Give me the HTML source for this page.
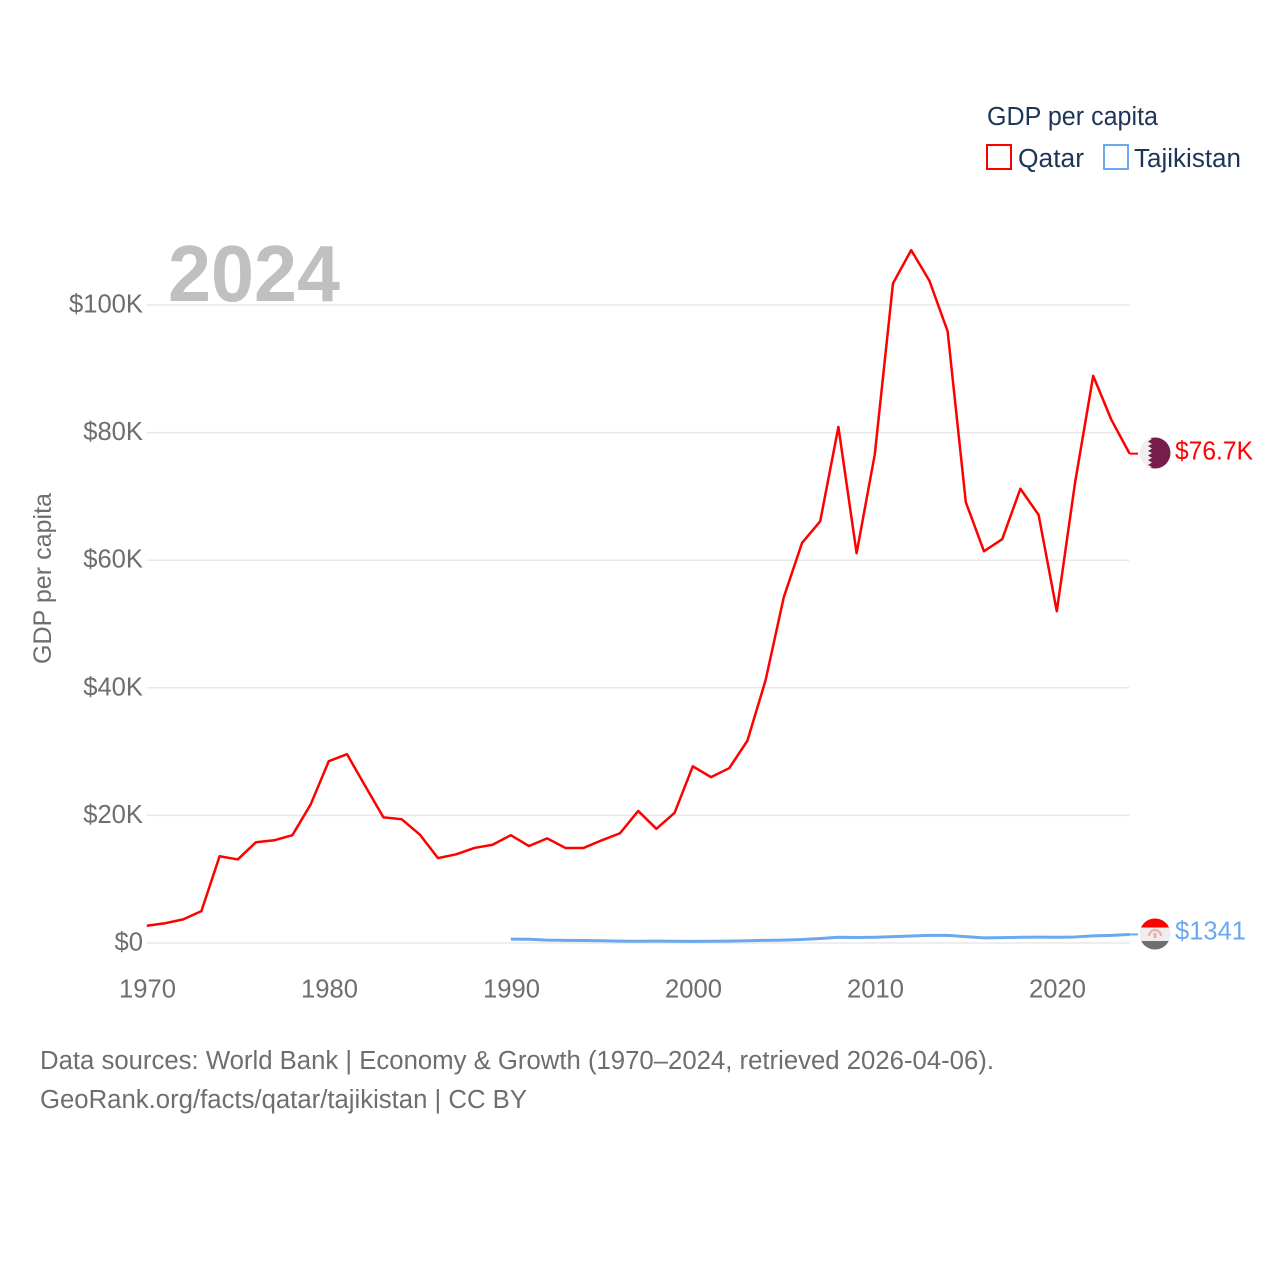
<!DOCTYPE html>
<html lang="en">
<head>
<meta charset="utf-8">
<title>GDP per capita: Qatar vs Tajikistan</title>
<style>
html,body{margin:0;padding:0;background:#fff;width:1280px;height:1280px;overflow:hidden}
svg{display:block}
text{font-family:"Liberation Sans",sans-serif}
</style>
</head>
<body>
<svg id="chart" xmlns="http://www.w3.org/2000/svg" width="1280" height="1280" viewBox="0 0 1280 1280">
  <defs>
    <clipPath id="flag-clip-qa"><circle cx="1155" cy="453" r="15.5"/></clipPath>
    <clipPath id="flag-clip-tj"><circle cx="1155" cy="934" r="15.5"/></clipPath>
  </defs>
  <g id="grid"></g>
  <text x="168" y="301" font-size="80" font-weight="700" fill="#c0c0c0" textLength="172" lengthAdjust="spacingAndGlyphs">2024</text>
  <g id="y-ticks"></g>
  <g id="x-ticks"></g>
  <text transform="translate(51,664) rotate(-90)" font-size="25" fill="#6e6e6e" textLength="171" lengthAdjust="spacingAndGlyphs">GDP per capita</text>
  <path id="line-qatar" fill="none" stroke="#ff0000" stroke-width="2.5" stroke-linejoin="round"/>
  <path id="line-tajikistan" fill="none" stroke="#6aa9ee" stroke-width="3" stroke-linejoin="round"/>
  <line id="conn-qatar" x2="1138" stroke="#ff0000" stroke-width="2"/>
  <line id="conn-tajikistan" x2="1138" stroke="#6aa9ee" stroke-width="2"/>

  <g clip-path="url(#flag-clip-qa)">
    <rect x="1139" y="437" width="32" height="32" fill="#eeeeee"/>
    <polygon fill="#761d4b" points="1171,437 1148,437 1152,439 1148,441.5 1152,444 1148,446 1152,448.5 1148,451 1152,453 1148,455.5 1152,458 1148,460 1152,462.5 1148,465 1152,467 1148,469 1171,469"/>
  </g>
  <g clip-path="url(#flag-clip-tj)">
    <rect x="1139" y="918" width="32" height="9.5" fill="#ff0000"/>
    <rect x="1139" y="927.5" width="32" height="13.5" fill="#eeeeee"/>
    <rect x="1139" y="941" width="32" height="9" fill="#6f6f6f"/>
    <path d="M1149 936a6 6 0 0 1 12 0" fill="none" stroke="#f6a9a9" stroke-width="2"/>
    <rect x="1153.5" y="933" width="3" height="5" fill="#f6a9a9"/>
  </g>
  <text x="1175" y="459.5" font-size="25.5" fill="#ff0000" textLength="78" lengthAdjust="spacingAndGlyphs">$76.7K</text>
  <text x="1175" y="939.5" font-size="25.5" fill="#6aa9ee" textLength="71" lengthAdjust="spacingAndGlyphs">$1341</text>

  <g>
    <text x="987" y="125" font-size="25.5" fill="#1d3557" textLength="171" lengthAdjust="spacingAndGlyphs">GDP per capita</text>
    <g>
      <rect x="987" y="145" width="24" height="24" fill="none" stroke="#ff0000" stroke-width="2"/>
      <text x="1018" y="167" font-size="25.5" fill="#1d3557" textLength="66" lengthAdjust="spacingAndGlyphs">Qatar</text>
    </g>
    <g>
      <rect x="1104" y="145" width="24" height="24" fill="none" stroke="#6aa9ee" stroke-width="2"/>
      <text x="1134" y="167" font-size="25.5" fill="#1d3557" textLength="107" lengthAdjust="spacingAndGlyphs">Tajikistan</text>
    </g>
  </g>

  <text x="40" y="1069" font-size="25.5" fill="#6e6e6e" textLength="954" lengthAdjust="spacingAndGlyphs">Data sources: World Bank | Economy &amp; Growth (1970–2024, retrieved 2026-04-06).</text>
  <text x="40" y="1108" font-size="25.5" fill="#6e6e6e" textLength="487" lengthAdjust="spacingAndGlyphs">GeoRank.org/facts/qatar/tajikistan | CC BY</text>
</svg>
<script>
// Values in thousands of US dollars
const yTickValues = [0, 20, 40, 60, 80, 100];
const yTickLabels = ["$0", "$20K", "$40K", "$60K", "$80K", "$100K"];
const xTickYears = [1970, 1980, 1990, 2000, 2010, 2020];
const qatarStartYear = 1970;
const qatarValues = [2.7, 3.1, 3.7, 5.0, 13.6, 13.1, 15.8, 16.1, 16.9, 21.7,
  28.5, 29.6, 24.6, 19.7, 19.4, 17.0, 13.3, 13.9, 14.9, 15.4,
  16.9, 15.2, 16.4, 14.9, 14.9, 16.1, 17.2, 20.7, 17.9, 20.4,
  27.7, 26.0, 27.4, 31.7, 41.2, 54.2, 62.7, 66.1, 80.9, 61.1,
  76.6, 103.4, 108.6, 103.8, 95.9, 69.1, 61.4, 63.3, 71.2, 67.1,
  52.0, 72.1, 88.9, 82.0, 76.7];
const tajikistanStartYear = 1990;
const tajikistanValues = [0.6, 0.58, 0.45, 0.42, 0.4, 0.35, 0.3, 0.27, 0.3, 0.28,
  0.25, 0.27, 0.3, 0.35, 0.42, 0.46, 0.54, 0.7, 0.9, 0.86,
  0.9, 1.0, 1.1, 1.2, 1.2, 1.0, 0.8, 0.85, 0.9, 0.92,
  0.9, 0.95, 1.12, 1.2, 1.341];

const xScale = function (year) { return 146.8 + (year - 1970) * 18.2; };
const yScale = function (value) { return 943 - value * 6.38; };
const SVG_NS = 'http://www.w3.org/2000/svg';

const gridGroup = document.getElementById('grid');
const yTickGroup = document.getElementById('y-ticks');
const xTickGroup = document.getElementById('x-ticks');

yTickValues.forEach(function (v, i) {
  const line = document.createElementNS(SVG_NS, 'line');
  
  
  line.setAttribute('x1', xScale(1970));
  line.setAttribute('x2', xScale(2024));
  line.setAttribute('y1', yScale(v));
  line.setAttribute('y2', yScale(v));
  line.setAttribute('stroke', '#e8e8e8');
  line.setAttribute('stroke-width', '1.5');
  gridGroup.appendChild(line);

  const label = document.createElementNS(SVG_NS, 'text');
  
  
  label.setAttribute('x', 143);
  label.setAttribute('y', yScale(v) + 7.5);
  label.setAttribute('text-anchor', 'end');
  label.setAttribute('font-size', '25.6');
  label.setAttribute('fill', '#6e6e6e');
  label.textContent = yTickLabels[i];
  yTickGroup.appendChild(label);
});

xTickYears.forEach(function (year) {
  const label = document.createElementNS(SVG_NS, 'text');
  
  
  label.setAttribute('x', xScale(year) + 0.7);
  label.setAttribute('y', 997.5);
  label.setAttribute('text-anchor', 'middle');
  label.setAttribute('font-size', '25.6');
  label.setAttribute('fill', '#6e6e6e');
  label.textContent = String(year);
  xTickGroup.appendChild(label);
});

function linePath(values, startYear) {
  return values.map(function (v, i) {
    return (i === 0 ? 'M' : 'L') + xScale(startYear + i).toFixed(2) + ' ' + yScale(v).toFixed(2);
  }).join('');
}

document.getElementById('line-qatar').setAttribute('d', linePath(qatarValues, qatarStartYear));
document.getElementById('line-tajikistan').setAttribute('d', linePath(tajikistanValues, tajikistanStartYear));

function placeConnector(id, values) {
  const el = document.getElementById(id);
  const last = yScale(values[values.length - 1]);
  el.setAttribute('x1', xScale(2024));
  el.setAttribute('y1', last);
  el.setAttribute('y2', last);
}
placeConnector('conn-qatar', qatarValues);
placeConnector('conn-tajikistan', tajikistanValues);
</script>
</body>
</html>
